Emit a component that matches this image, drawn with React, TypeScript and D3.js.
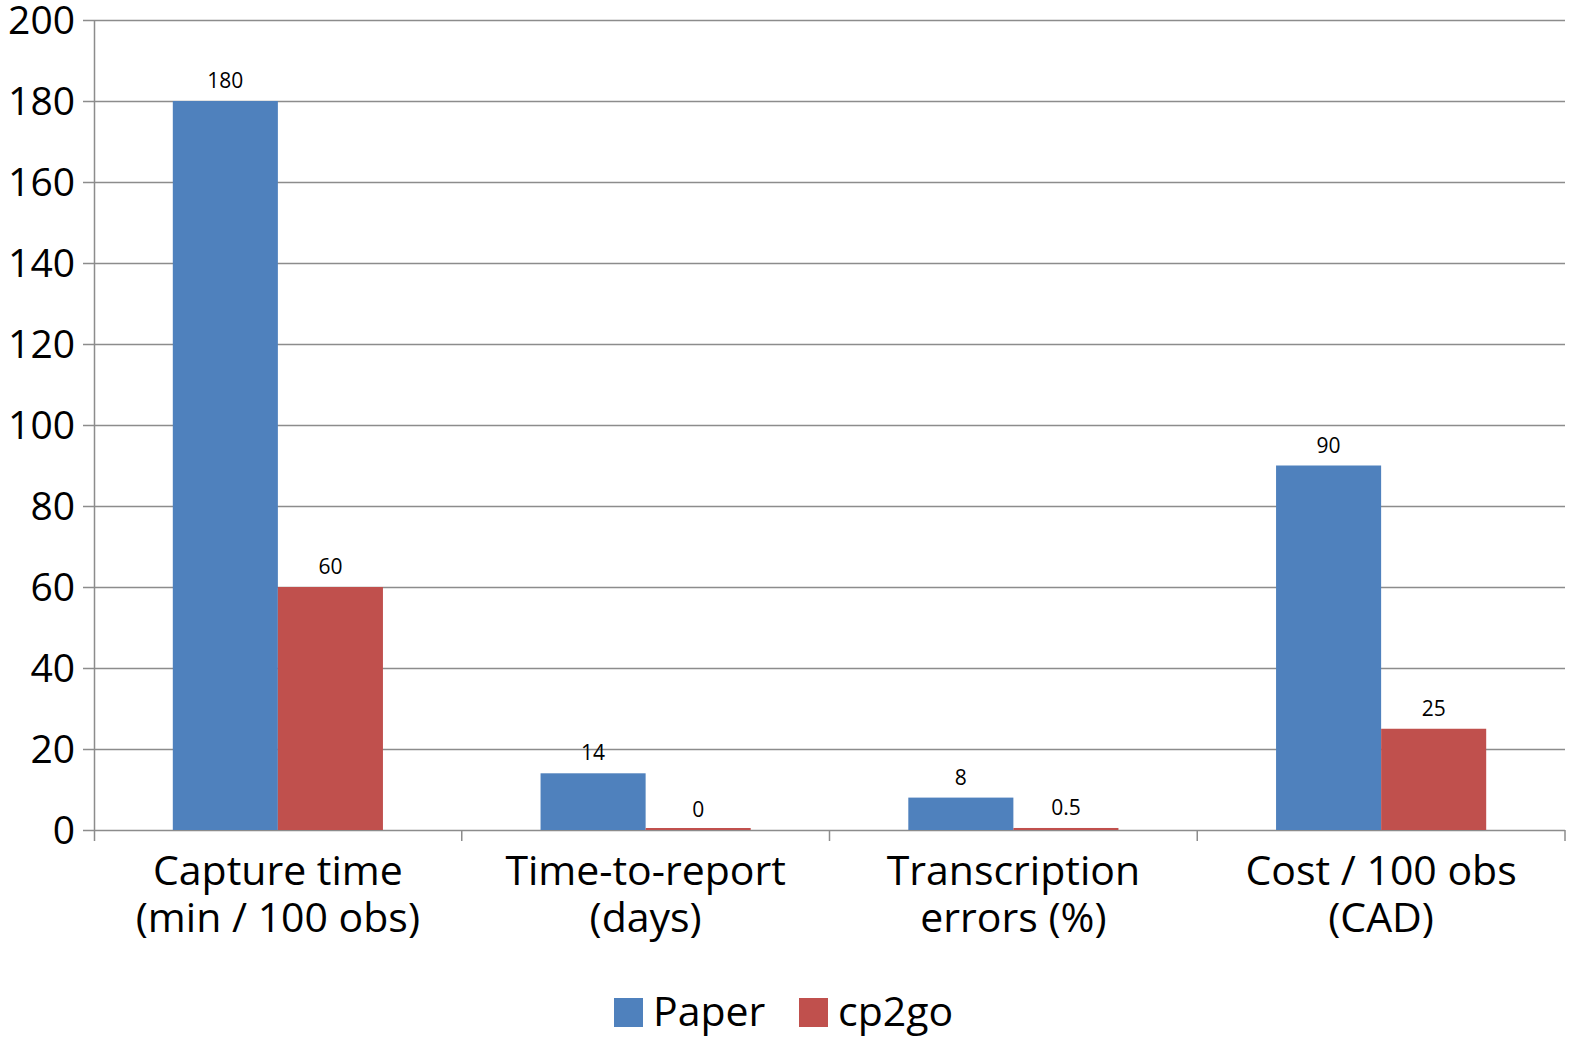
import React, { useEffect, useRef } from "react";
import * as d3 from "d3";

const categories = [
  ["Capture time", "(min / 100 obs)"],
  ["Time-to-report", "(days)"],
  ["Transcription", "errors (%)"],
  ["Cost / 100 obs", "(CAD)"],
];
const seriesNames = ["Paper", "cp2go"];
const paperValues = [180, 14, 8, 90];
const cp2goValues = [60, 0, 0.5, 25];
const yTicks = [0, 20, 40, 60, 80, 100, 120, 140, 160, 180, 200];
const colors = ["#4F81BD", "#C0504D"];

const FONT = "'Open Sans', Lato, sans-serif";

const App = () => {
  const svgRef = useRef<SVGSVGElement>(null);

  useEffect(() => {
    const width = 1572;
    const height = 1037;
    const margin = { top: 20, right: 7, bottom: 207, left: 94 };

    const svg = d3.select(svgRef.current);
    svg.selectAll("*").remove();
    svg.attr("width", width).attr("height", height);

    const y = d3
      .scaleLinear()
      .domain([0, 200])
      .range([height - margin.bottom, margin.top]);

    const x = d3
      .scaleBand<number>()
      .domain(d3.range(categories.length))
      .range([margin.left, width - margin.right]);

    const bw = x.bandwidth() / 3.5;
    const inner = d3
      .scaleBand<number>()
      .domain([0, 1])
      .range([x.bandwidth() / 2 - bw, x.bandwidth() / 2 + bw]);

    // gridlines
    svg
      .append("g")
      .selectAll("line")
      .data(yTicks)
      .join("line")
      .attr("x1", margin.left - 11)
      .attr("x2", width - margin.right)
      .attr("y1", (d) => Math.round(y(d)) + 0.5)
      .attr("y2", (d) => Math.round(y(d)) + 0.5)
      .attr("stroke", "#8c8c8c")
      .attr("stroke-width", 1.5);

    // y labels
    svg
      .append("g")
      .selectAll("text")
      .data(yTicks)
      .join("text")
      .attr("x", margin.left - 19)
      .attr("y", (d) => y(d))
      .attr("dy", "0.36em")
      .attr("text-anchor", "end")
      .attr("font-family", FONT)
      .attr("font-size", 39)
      .attr("fill", "#000")
      .text((d) => d);

    // y axis line
    svg
      .append("line")
      .attr("x1", margin.left + 0.5)
      .attr("x2", margin.left + 0.5)
      .attr("y1", margin.top)
      .attr("y2", height - margin.bottom + 11)
      .attr("stroke", "#8c8c8c")
      .attr("stroke-width", 1.5);

    // category ticks
    const boundaries = d3.range(1, categories.length + 1).map((i) =>
      i < categories.length ? x(i)! : width - margin.right
    );
    svg
      .append("g")
      .selectAll("line")
      .data(boundaries)
      .join("line")
      .attr("x1", (d) => d)
      .attr("x2", (d) => d)
      .attr("y1", y(0))
      .attr("y2", y(0) + 11)
      .attr("stroke", "#8c8c8c")
      .attr("stroke-width", 1.5);

    // bars (zero values still show a hairline, like the original)
    const series = [paperValues, cp2goValues];
    series.forEach((vals, s) => {
      const g = svg.append("g");
      g.selectAll("rect")
        .data(vals)
        .join("rect")
        .attr("x", (_, i) => x(i)! + inner(s)!)
        .attr("y", (d) => Math.min(y(d), y(0) - 2))
        .attr("width", inner.bandwidth())
        .attr("height", (d) => Math.max(y(0) - y(d), 2))
        .attr("fill", colors[s]);

      g.selectAll("text")
        .data(vals)
        .join("text")
        .attr("x", (_, i) => x(i)! + inner(s)! + inner.bandwidth() / 2)
        .attr("y", (d) => y(d) - 13)
        .attr("text-anchor", "middle")
        .attr("font-family", FONT)
        .attr("font-size", 21)
        .attr("fill", "#000")
        .text((d) => d);
    });

    // category labels
    const labels = svg.append("g");
    categories.forEach((lines, i) => {
      const t = labels
        .append("text")
        .attr("x", x(i)! + x.bandwidth() / 2)
        .attr("y", y(0) + 55)
        .attr("text-anchor", "middle")
        .attr("font-family", FONT)
        .attr("font-size", 41)
        .attr("fill", "#000");
      lines.forEach((l, j) => {
        t.append("tspan")
          .attr("x", x(i)! + x.bandwidth() / 2)
          .attr("dy", j === 0 ? 0 : 47)
          .text(l);
      });
    });

    // legend
    const legend = svg.append("g").attr("transform", `translate(614, 998)`);
    const offsets = [0, 185];
    seriesNames.forEach((name, i) => {
      legend
        .append("rect")
        .attr("x", offsets[i])
        .attr("y", 0)
        .attr("width", 29)
        .attr("height", 29)
        .attr("fill", colors[i]);
      legend
        .append("text")
        .attr("x", offsets[i] + 39)
        .attr("y", 28)
        .attr("font-family", FONT)
        .attr("font-size", 41)
        .attr("fill", "#000")
        .text(name);
    });
  }, []);

  return (
    <svg
      ref={svgRef}
      style={{ position: "absolute", left: 0, top: 0, background: "#fff" }}
    ></svg>
  );
};

export default App;
